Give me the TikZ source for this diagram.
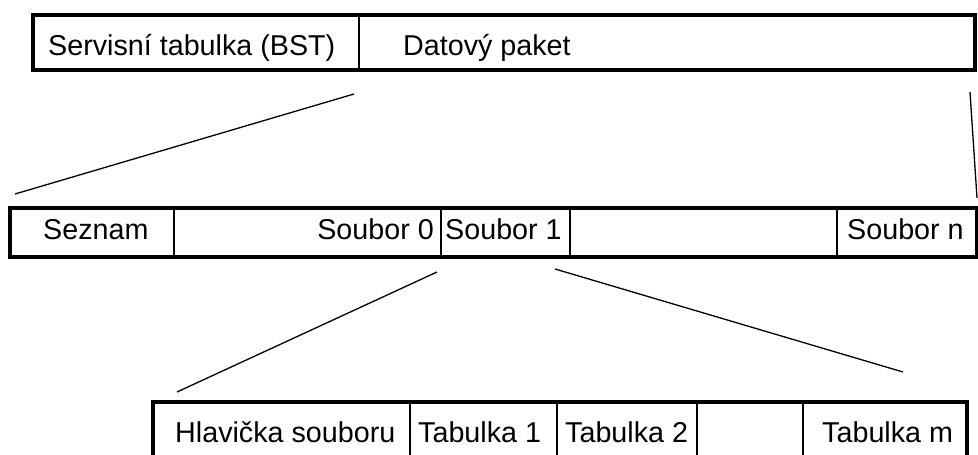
\documentclass[tikz,border=0pt]{standalone}
\usepackage{fontspec}
\setmainfont{Liberation Sans}
\begin{document}
\begin{tikzpicture}[x=1pt,y=-1pt,
  frame/.style={draw=black,line width=3.6pt},
  cell/.style={draw=black,line width=2pt,inner sep=0pt,outer sep=0pt,anchor=north west},
  txt/.style={inner sep=0pt,font=\fontsize{28.7}{34}\selectfont},
  conn/.style={draw=black,line width=1.3pt}]
\useasboundingbox (0,0) rectangle (978,455);
\clip (0,0) rectangle (978,455);
% top packet
\node[cell,minimum width=326pt,minimum height=55pt] (bst) at (33,15) {};
\node[cell,minimum width=616pt,minimum height=55pt] (dp) at (359,15) {};
\draw[frame] (bst.north west) rectangle (dp.south east);
\node[txt,anchor=base west] (tbst) at (48,55) {Servisní tabulka (BST)};
\node[txt,anchor=base west] (tdp) at (403,55) {Datový paket};
% middle
\node[cell,minimum width=164pt,minimum height=49pt] (sez) at (10,208) {};
\node[cell,minimum width=267pt,minimum height=49pt] (s0) at (174,208) {};
\node[cell,minimum width=129pt,minimum height=49pt] (s1) at (441,208) {};
\node[cell,minimum width=267pt,minimum height=49pt] (sx) at (570,208) {};
\node[cell,minimum width=140pt,minimum height=49pt] (sn) at (837,208) {};
\draw[frame] (sez.north west) rectangle (sn.south east);
\node[txt,anchor=base west] (tsez) at (43,239) {Seznam};
\node[txt,anchor=base east] (ts0) at (434,239) {Soubor 0};
\node[txt,anchor=base west] (ts1) at (445,239) {Soubor 1};
\node[txt,anchor=base west] (tsn) at (847,239) {Soubor n};
% bottom
\node[cell,minimum width=257pt,minimum height=70pt] (hl) at (153,402) {};
\node[cell,minimum width=147pt,minimum height=70pt] (t1) at (410,402) {};
\node[cell,minimum width=140pt,minimum height=70pt] (t2) at (557,402) {};
\node[cell,minimum width=106pt,minimum height=70pt] (tx) at (697,402) {};
\node[cell,minimum width=164pt,minimum height=70pt] (tm) at (803,402) {};
\draw[frame] (hl.north west) rectangle (tm.south east);
\node[txt,anchor=base west] (thl) at (175,442) {Hlavička souboru};
\node[txt,anchor=base west] (tt1) at (418,442) {Tabulka 1};
\node[txt,anchor=base west] (tt2) at (565,442) {Tabulka 2};
\node[txt,anchor=base west] (ttm) at (822,442) {Tabulka m};
% connectors
\coordinate (a1) at (354,94);
\coordinate (a2) at (15,194);
\coordinate (b1) at (970,92);
\coordinate (b2) at (977,198);
\coordinate (c1) at (437,272);
\coordinate (c2) at (177,392);
\coordinate (d1) at (555,269);
\coordinate (d2) at (903,372);
\draw[conn] (a1) -- (a2);
\draw[conn] (b1) -- (b2);
\draw[conn] (c1) -- (c2);
\draw[conn] (d1) -- (d2);
\end{tikzpicture}
\end{document}
